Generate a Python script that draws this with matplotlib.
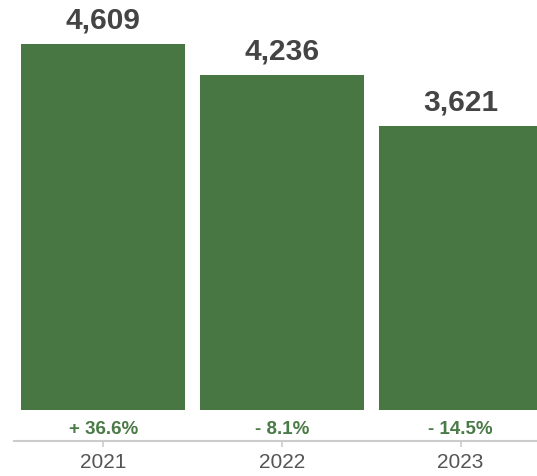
import matplotlib
matplotlib.use("Agg")
import matplotlib.pyplot as plt

years = ["2021", "2022", "2023"]
values = [4609, 4236, 3621]
changes = ["+ 36.6%", "- 8.1%", "- 14.5%"]
base = 200  # value at which the drawn bars begin

plt.rcParams['font.family'] = ['Liberation Sans', 'DejaVu Sans']

W, H = 537, 477
fig = plt.figure(figsize=(W/100, H/100), dpi=100)
left_px, axis_y_px = 14, 441.7
ax = fig.add_axes([left_px/W, (H-axis_y_px)/H, 536/W, axis_y_px/H])

bar_color = "#497744"
x = list(range(len(years)))
ax.bar(x, [v - base for v in values], bottom=base, width=0.918, color=bar_color, zorder=2)
ax.set_xlim(-0.5, 2.5)
ax.set_ylim(-174.7, 5147)

for xi, v in zip(x, values):
    ax.annotate(f"{v:,}", (xi, v), xytext=(0, 16), textcoords="offset pixels",
                ha="center", va="baseline", fontsize=21.5, fontweight="bold", color="#444444")
for xi, c in zip(x, changes):
    ax.annotate(c, (xi, base), xytext=(0, -18.5), textcoords="offset pixels",
                ha="center", va="center", fontsize=13.5, fontweight="bold", color="#4a7a45")

ax.set_xticks(x)
ax.set_xticklabels(years, fontsize=15, color="#555555")
ax.tick_params(axis="x", length=4, width=1.2, color="#cccccc", pad=4)
ax.set_yticks([])
for s in ["top", "right", "left"]:
    ax.spines[s].set_visible(False)
ax.spines["bottom"].set_color("#cccccc")
ax.spines["bottom"].set_linewidth(1.5)

fig.savefig("out.png", dpi=100)
